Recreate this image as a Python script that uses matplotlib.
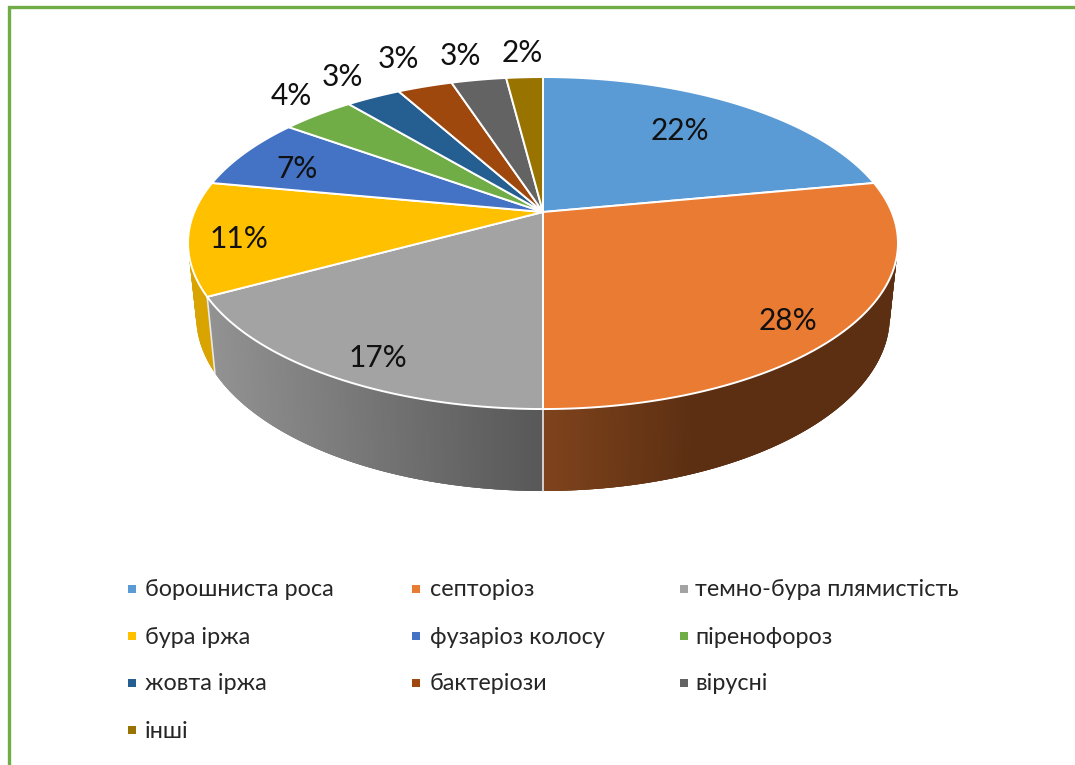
"""Perspective 3D pie of wheat disease shares, drawn in pixel coordinates."""
import matplotlib
matplotlib.use("Agg")
import matplotlib.pyplot as plt
import numpy as np
from matplotlib.colors import to_rgb
from matplotlib.patches import Polygon, Rectangle

categories = ["борошниста роса", "септоріоз", "темно-бура плямистість",
              "бура іржа", "фузаріоз колосу", "піренофороз",
              "жовта іржа", "бактеріози", "вірусні", "інші"]
shares = [22, 28, 17, 11, 7, 4, 3, 3, 3, 2]
colors = ["#5B9BD5", "#EA7B32", "#A3A3A3", "#FFC000", "#4472C4",
          "#70AD47", "#255E91", "#9E480E", "#636363", "#997300"]

# label anchors, pixels
label_xy = [(680, 131), (788, 321), (378, 358), (239, 239), (297, 169),
            (291, 96), (342, 77), (398, 59), (460, 56), (522, 53)]
legend_cols = [(128, 145), (412, 430), (680, 695)]
legend_rows = [589, 636, 683, 730]

CX, CY = 543, 212
KP = 0.187           # perspective strength
TOP_A, TOP_B = 348.7, 160.2
BOT_A, BOT_B, BOT_Y = 340.7, 168.6, 283.6
STEP = np.radians(0.5)

plt.rcParams["font.family"] = ["Lato", "Open Sans", "DejaVu Sans"]


def rim(theta, a=TOP_A, b=TOP_B, y0=CY):
    """Angle clockwise from 12 o'clock -> pixel position."""
    u, v = np.sin(theta), np.cos(theta)
    w = 1 + KP * v
    return CX + a * u / w, y0 - b * v / w


def lerp(c1, c2, t):
    t = np.clip(t, 0, 1)
    return tuple((1 - t) * x + t * y for x, y in zip(to_rgb(c1), to_rgb(c2)))


def side_color(idx, x):
    if idx == 1:
        return lerp("#7E431C", "#5C2F12", (x - 543) / 150)
    if idx == 2:
        return lerp("#929292", "#585858", (x - 210) / 333)
    return lerp(colors[idx], "#000000", 0.15)


fig = plt.figure(figsize=(10.75, 7.65), dpi=100)
ax = fig.add_axes([0, 0, 1, 1])
ax.set_xlim(0, 1075)
ax.set_ylim(765, 0)
ax.axis("off")

# frame: only top and left are in view
ax.plot([8.5, 8.5, 1075], [765, 6.5, 6.5], color="#70AD47", lw=2.4,
        solid_joinstyle="miter")

edges = np.cumsum([0] + shares) / sum(shares) * 2 * np.pi

# side wall, back to front; strips overlap a little so no seams show
strips = []
for i in range(len(shares)):
    n = max(int((edges[i + 1] - edges[i]) / STEP), 2)
    th = np.linspace(edges[i], edges[i + 1], n + 1)
    for t0, t1 in zip(th[:-1], th[1:]):
        if np.cos((t0 + t1) / 2) < 0.35:
            strips.append((i, t0, t1))
strips.sort(key=lambda s: -np.cos((s[1] + s[2]) / 2))
for i, t0, t1 in strips:
    a0 = max(t0 - STEP, edges[i])
    a1 = min(t1 + STEP, edges[i + 1])
    x0, y0 = rim(a0)
    x1, y1 = rim(a1)
    x2, y2 = rim(a1, BOT_A, BOT_B, BOT_Y)
    x3, y3 = rim(a0, BOT_A, BOT_B, BOT_Y)
    ax.add_patch(Polygon([(x0, y0), (x1, y1), (x2, y2), (x3, y3)],
                         facecolor=side_color(i, (x0 + x1) / 2),
                         edgecolor="none", zorder=2))

# seams between the visible side walls
for t in (edges[2], edges[3]):
    ax.plot(*zip(rim(t), rim(t, BOT_A, BOT_B, BOT_Y)), color="#E8E8E8", lw=1.2,
            zorder=3)

# top face
for i in range(len(shares)):
    th = np.linspace(edges[i], edges[i + 1], max(int(shares[i] * 6), 6))
    xs, ys = rim(th)
    pts = [(CX, CY)] + list(zip(xs, ys))
    ax.add_patch(Polygon(pts, closed=True, facecolor=colors[i],
                         edgecolor="white", lw=1.4, joinstyle="round", zorder=4))

for (x, y), s in zip(label_xy, shares):
    ax.text(x, y, f"{s}%", ha="center", va="center", fontsize=21.5,
            color="#111111", zorder=5)

# legend is filled row by row
for n, (name, c) in enumerate(zip(categories, colors)):
    mx, tx = legend_cols[n % 3]
    y = legend_rows[n // 3]
    ax.add_patch(Rectangle((mx, y - 4), 8, 8, facecolor=c, edgecolor="none"))
    ax.text(tx, y + 1, name, ha="left", va="center", fontsize=16.8, color="#262626")

fig.savefig("out.png", dpi=100)
